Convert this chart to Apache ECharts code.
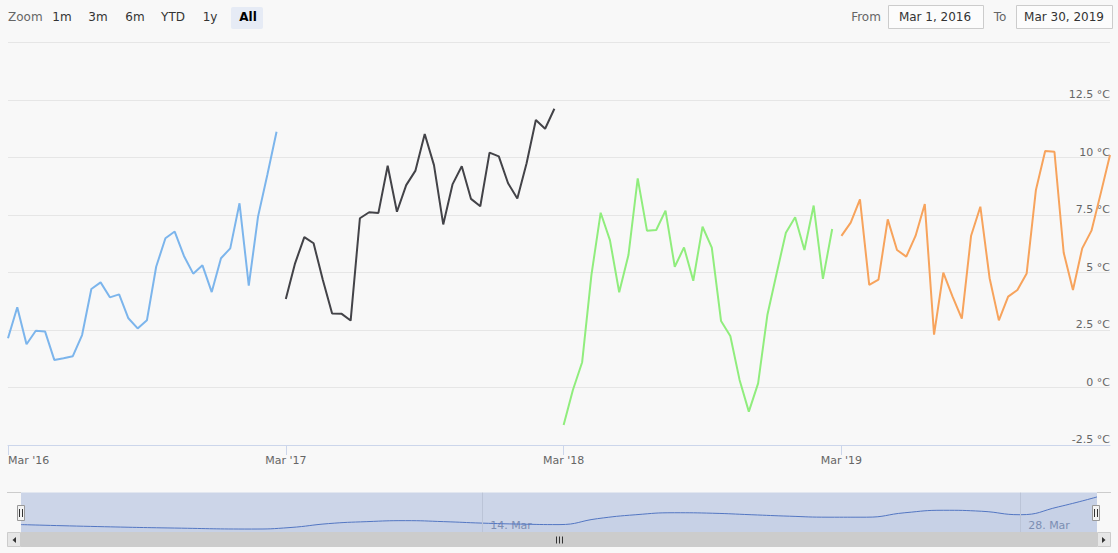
<!DOCTYPE html>
<html><head><meta charset="utf-8">
<script src="https://cdn.jsdelivr.net/npm/echarts@6/dist/echarts.min.js"></script>
<style>html,body{margin:0;padding:0;background:#f8f8f8}#c{width:1118px;height:553px}</style>
</head><body><div id="c"></div>
<script>
const years = ['2016', '2017', '2018', '2019'];
const daysShown = 30;
const tickLabels = ["Mar '16", "Mar '17", "Mar '18", "Mar '19"];
const temps2016 = [2.14, 3.49, 1.88, 2.47, 2.44, 1.20, 1.27, 1.36, 2.28, 4.28, 4.57, 3.92, 4.05, 3.01, 2.57, 2.92, 5.25, 6.49, 6.78, 5.72, 4.95, 5.31, 4.15, 5.62, 6.05, 8.01, 4.43, 7.43, 9.24, 11.12];
const temps2017 = [3.85, 5.40, 6.54, 6.27, 4.67, 3.22, 3.21, 2.91, 7.36, 7.62, 7.59, 9.64, 7.64, 8.80, 9.43, 11.02, 9.67, 7.09, 8.83, 9.62, 8.20, 7.88, 10.21, 10.05, 8.88, 8.22, 9.75, 11.63, 11.25, 12.12];
const temps2018 = [-1.63, -0.11, 1.10, 4.89, 7.60, 6.41, 4.14, 5.76, 9.09, 6.82, 6.85, 7.69, 5.25, 6.09, 4.64, 6.99, 6.08, 2.89, 2.24, 0.33, -1.05, 0.18, 3.15, 4.96, 6.73, 7.40, 5.98, 7.91, 4.72, 6.89];
const temps2019 = [6.59, 7.17, 8.18, 4.46, 4.69, 7.31, 5.98, 5.69, 6.59, 7.98, 2.30, 4.99, 3.95, 2.99, 6.60, 7.86, 4.75, 2.92, 3.95, 4.24, 4.96, 8.59, 10.28, 10.25, 5.86, 4.24, 6.05, 6.82, 8.44, 10.11];
const seriesColors = ['#7cb5ec', '#434348', '#90ed7d', '#f7a35c'];
const yMin = -2.5, yMax = 15, yStep = 2.5;
const navDays = [2, 4, 6, 8, 9, 10, 11, 12, 13, 14, 15, 16, 17, 18, 19, 20, 21, 22, 23, 24, 25, 26, 27, 28, 29, 30];
const navValues = [2.25, 1.65, 1.2, 0.9, 1.35, 2.55, 3.15, 3.45, 3.15, 2.7, 2.4, 2.25, 4.05, 5.25, 5.85, 5.7, 5.25, 4.8, 4.5, 4.5, 5.85, 6.6, 6.3, 5.25, 7.65, 10.65];
const navTicks = [14, 28];
const navTickLabels = ['14. Mar', '28. Mar'];
const rangeButtons = ['1m', '3m', '6m', 'YTD', '1y', 'All'];
const fromText = 'Mar 1, 2016', toText = 'Mar 30, 2019';

const categories = [];
years.forEach(y => { for (let d = 1; d <= daysShown; d++) categories.push(y + '-03-' + String(d).padStart(2, '0')); });
const allTemps = [temps2016, temps2017, temps2018, temps2019];
const FONT = '"DejaVu Sans", sans-serif';

const mainSeries = allTemps.map((t, k) => {
  const data = new Array(categories.length).fill('-');
  t.forEach((v, i) => { data[k * daysShown + i] = v; });
  return {
    type: 'line', data, symbol: 'none', connectNulls: false,
    lineStyle: { width: 2, color: seriesColors[k] }, itemStyle: { color: seriesColors[k] },
    xAxisIndex: 0, yAxisIndex: 0, z: 3
  };
});

const btnX = [62, 98, 135, 173, 210, 248];
const graphic = [
  { type: 'text', x: 8, y: 17, style: { text: 'Zoom', fill: '#666666', font: '12px ' + FONT, align: 'left', verticalAlign: 'middle' } },
  { type: 'rect', shape: { x: 231, y: 7, width: 32, height: 22, r: 2 }, style: { fill: '#e6ebf5' } },
  ...rangeButtons.map((b, i) => ({ type: 'text', x: btnX[i], y: 17, z: 5, style: { text: b, fill: i === 5 ? '#000000' : '#333333', font: (i === 5 ? 'bold ' : '') + '12px ' + FONT, align: 'center', verticalAlign: 'middle' } })),
  { type: 'text', x: 866, y: 17, style: { text: 'From', fill: '#666666', font: '12px ' + FONT, align: 'center', verticalAlign: 'middle' } },
  { type: 'rect', shape: { x: 888.5, y: 5.5, width: 95, height: 23 }, style: { fill: '#fcfcfc', stroke: '#cccccc', lineWidth: 1 } },
  { type: 'text', x: 935, y: 17, style: { text: fromText, fill: '#333333', font: '12px ' + FONT, align: 'center', verticalAlign: 'middle' } },
  { type: 'text', x: 1000, y: 17, style: { text: 'To', fill: '#666666', font: '12px ' + FONT, align: 'center', verticalAlign: 'middle' } },
  { type: 'rect', shape: { x: 1016.5, y: 5.5, width: 96, height: 23 }, style: { fill: '#fcfcfc', stroke: '#cccccc', lineWidth: 1 } },
  { type: 'text', x: 1064, y: 17, style: { text: toText, fill: '#333333', font: '12px ' + FONT, align: 'center', verticalAlign: 'middle' } },
  // navigator mask and outline
  { type: 'rect', z: 50, shape: { x: 21, y: 492.5, width: 1076, height: 39.5 }, style: { fill: 'rgba(102,133,194,0.3)' } },
  { type: 'line', z: 51, shape: { x1: 7, y1: 492.5, x2: 21, y2: 492.5 }, style: { stroke: '#cccccc', lineWidth: 1 } },
  { type: 'line', z: 51, shape: { x1: 1097, y1: 492.5, x2: 1111, y2: 492.5 }, style: { stroke: '#cccccc', lineWidth: 1 } },
  // handles
  ...[21, 1096].map(cx => ({ type: 'group', z: 60, children: [
    { type: 'rect', z: 60, shape: { x: cx - 3.5, y: 505.5, width: 7, height: 15 }, style: { fill: '#f2f2f2', stroke: '#999999', lineWidth: 1 } },
    { type: 'line', z: 61, shape: { x1: cx - 1.5, y1: 509, x2: cx - 1.5, y2: 517 }, style: { stroke: '#333333', lineWidth: 1 } },
    { type: 'line', z: 61, shape: { x1: cx + 1.5, y1: 509, x2: cx + 1.5, y2: 517 }, style: { stroke: '#333333', lineWidth: 1 } }
  ] })),
  // scrollbar
  { type: 'rect', z: 50, shape: { x: 7, y: 532, width: 1104, height: 15 }, style: { fill: '#f2f2f2' } },
  { type: 'rect', z: 51, shape: { x: 21, y: 532, width: 1076, height: 15 }, style: { fill: '#cccccc' } },
  { type: 'rect', z: 52, shape: { x: 7.5, y: 532.5, width: 13, height: 14 }, style: { fill: '#e6e6e6', stroke: '#cccccc', lineWidth: 1 } },
  { type: 'rect', z: 52, shape: { x: 1097.5, y: 532.5, width: 13, height: 14 }, style: { fill: '#e6e6e6', stroke: '#cccccc', lineWidth: 1 } },
  { type: 'polygon', z: 53, shape: { points: [[16, 537], [16, 543], [12.5, 540]] }, style: { fill: '#333333' } },
  { type: 'polygon', z: 53, shape: { points: [[1102, 537], [1102, 543], [1105.5, 540]] }, style: { fill: '#333333' } },
  ...[556.5, 559.5, 562.5].map(x => ({ type: 'line', z: 53, shape: { x1: x, y1: 536.5, x2: x, y2: 543.5 }, style: { stroke: '#333333', lineWidth: 1 } }))
];

const option = {
  backgroundColor: '#f8f8f8',
  animation: false,
  textStyle: { fontFamily: FONT },
  grid: [
    { left: 8, right: 8, top: 42.5, height: 402.5, containLabel: false, outerBoundsMode: 'none' },
    { left: 21, right: 21, top: 492.5, height: 39.5, containLabel: false, outerBoundsMode: 'none' }
  ],
  xAxis: [
    {
      type: 'category', gridIndex: 0, data: categories, boundaryGap: false,
      axisLine: { show: true, onZero: false, lineStyle: { color: '#ccd6eb', width: 1 } },
      axisTick: { show: true, length: 10, interval: (i) => i % daysShown === 0, lineStyle: { color: '#ccd6eb' } },
      axisLabel: {
        interval: (i) => i % daysShown === 0,
        formatter: (v, i) => (i % daysShown === 0 ? tickLabels[i / daysShown] : ''),
        color: '#666666', fontSize: 11, margin: 10, alignMinLabel: 'left', fontFamily: FONT
      },
      splitLine: { show: false }
    },
    {
      type: 'value', gridIndex: 1, min: 2, max: 30,
      axisLine: { show: false, onZero: false }, axisTick: { show: false },
      axisLabel: {
        customValues: navTicks, inside: true, margin: 6.5, align: 'left', verticalAlign: 'middle',
        padding: [0, 0, 0, 8],
        formatter: (v) => navTickLabels[navTicks.indexOf(v)] || '',
        color: '#8a96ad', fontSize: 11, fontFamily: FONT
      },
      splitLine: { show: false }
    }
  ],
  yAxis: [
    {
      type: 'value', gridIndex: 0, position: 'right', min: yMin, max: yMax, interval: yStep,
      axisLine: { show: false }, axisTick: { show: false },
      axisLabel: {
        inside: true, margin: 0, align: 'right', verticalAlign: 'bottom', showMaxLabel: false,
        formatter: (v) => v + ' °C', color: '#666666', fontSize: 11, fontFamily: FONT
      },
      splitLine: { lineStyle: { color: '#e6e6e6', width: 1 } }
    },
    { type: 'value', gridIndex: 1, min: 0, max: 12, show: false }
  ],
  series: [
    ...mainSeries,
    {
      type: 'line', xAxisIndex: 1, yAxisIndex: 1, smooth: true, symbol: 'none',
      data: navDays.map((d, i) => [d, navValues[i]]),
      lineStyle: { color: '#4a70c2', width: 1 },
      areaStyle: { color: 'rgba(51,92,173,0.05)' },
      markLine: {
        silent: true, symbol: 'none', label: { show: false },
        lineStyle: { color: '#e0e0e0', type: 'solid', width: 1 },
        data: navTicks.map(t => ({ xAxis: t }))
      },
      z: 2
    }
  ],
  graphic
};
const chart = echarts.init(document.getElementById('c'), null, { renderer: 'svg' });
chart.setOption(option);
</script>
</body></html>
